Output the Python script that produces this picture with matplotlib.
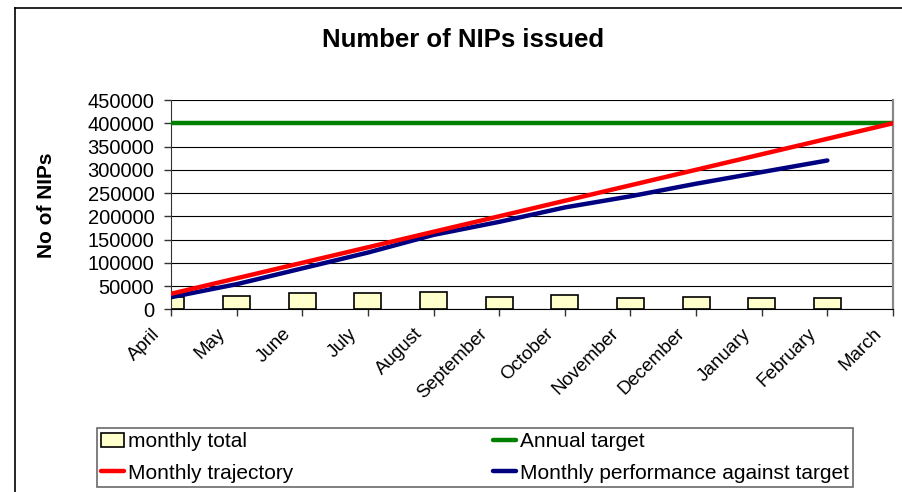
import numpy as np
import matplotlib
matplotlib.use('Agg')
from matplotlib import pyplot as plt
from matplotlib.lines import Line2D
from matplotlib.transforms import ScaledTranslation

plt.rcParams['font.family'] = ['Liberation Sans', 'DejaVu Sans']

months = ['April', 'May', 'June', 'July', 'August', 'September', 'October',
          'November', 'December', 'January', 'February', 'March']
monthly_total = [26000, 28000, 34000, 34000, 37000, 27000, 31000, 24000,
                 27000, 24000, 24000, np.nan]
annual_target = [400000] * 12
monthly_trajectory = [33333, 66667, 100000, 133333, 166667, 200000, 233333,
                      266667, 300000, 333333, 366667, 400000]
performance = [26000, 54000, 88000, 122000, 160000, 188000, 219000, 243000,
               270000, 295000, 320000, np.nan]
y_ticks = [0, 50000, 100000, 150000, 200000, 250000, 300000, 350000, 400000, 450000]

W, H = 903, 492
fig = plt.figure(figsize=(W / 100, H / 100), dpi=100)
ax = fig.add_axes([171 / W, (H - 309.3) / H, (893 - 171) / W, (309.3 - 100) / H])

x = np.arange(len(months))
bars = ax.bar(x, monthly_total, width=0.41, color='#FFFFCC', edgecolor='black',
              linewidth=1.2, zorder=2, label='monthly total')
l_target, = ax.plot(x, annual_target, color='#008000', lw=3.2, zorder=3,
                    label='Annual target', solid_capstyle='round')
l_traj, = ax.plot(x, monthly_trajectory, color='#FF0000', lw=3.2, zorder=4,
                  label='Monthly trajectory', solid_capstyle='round')
l_perf, = ax.plot(x, performance, color='#000080', lw=3.2, zorder=3,
                  label='Monthly performance against target', solid_capstyle='round')

ax.set_xlim(0, 11)
ax.set_ylim(0, 450000)
ax.set_yticks(y_ticks)
ax.set_yticklabels([str(v) for v in y_ticks])
ax.set_xticks(x)
ax.set_xticklabels([])
# month labels, rotated, ending just left of and below each tick
shift = ScaledTranslation(-14 / 100, -22 / 100, fig.dpi_scale_trans)
for i, m in enumerate(months):
    ax.text(i, 0, m, transform=ax.get_xaxis_transform() + shift, rotation=45,
            ha='right', va='center', rotation_mode='anchor', fontsize=13.5)
ax.yaxis.grid(True, color='black', lw=0.8)
ax.set_axisbelow(True)
ax.tick_params(axis='y', length=5, width=1, pad=7, labelsize=14.5, color='#333333')
ax.tick_params(axis='x', length=5, width=1, color='#333333')
ax.spines['top'].set_visible(False)
ax.spines['left'].set_color('#333333')
ax.spines['bottom'].set_color('black')
ax.spines['right'].set_color('#888888')
ax.spines['right'].set_linewidth(1.6)

fig.text(463 / W, 1 - 40 / H, 'Number of NIPs issued', ha='center', va='center',
         fontsize=18.5, fontweight='bold')
fig.text(47 / W, 1 - 205 / H, 'No of NIPs', ha='center', va='center',
         rotation=90, fontsize=15, fontweight='bold')

# outer chart border
fig.add_artist(Line2D([15 / W, 15 / W], [0, 1 - 8 / H], color='black', lw=1.2,
                      transform=fig.transFigure))
fig.add_artist(Line2D([15 / W, 1], [1 - 8 / H, 1 - 8 / H], color='black', lw=1.2,
                      transform=fig.transFigure))

leg = fig.legend([bars, l_traj, l_target, l_perf],
                 ['monthly total', 'Monthly trajectory', 'Annual target',
                  'Monthly performance against target'],
                 ncol=2, loc='upper left', mode='expand',
                 bbox_to_anchor=(97 / W, 0, (853 - 97) / W, 1 - 428 / H),
                 borderaxespad=0, fancybox=False, fontsize=15,
                 handlelength=1.1, handletextpad=0.2, borderpad=0.2,
                 labelspacing=0.6, frameon=True)
leg.get_frame().set_edgecolor('#444444')
leg.get_frame().set_linewidth(1.2)

fig.savefig('out.png', dpi=100)
